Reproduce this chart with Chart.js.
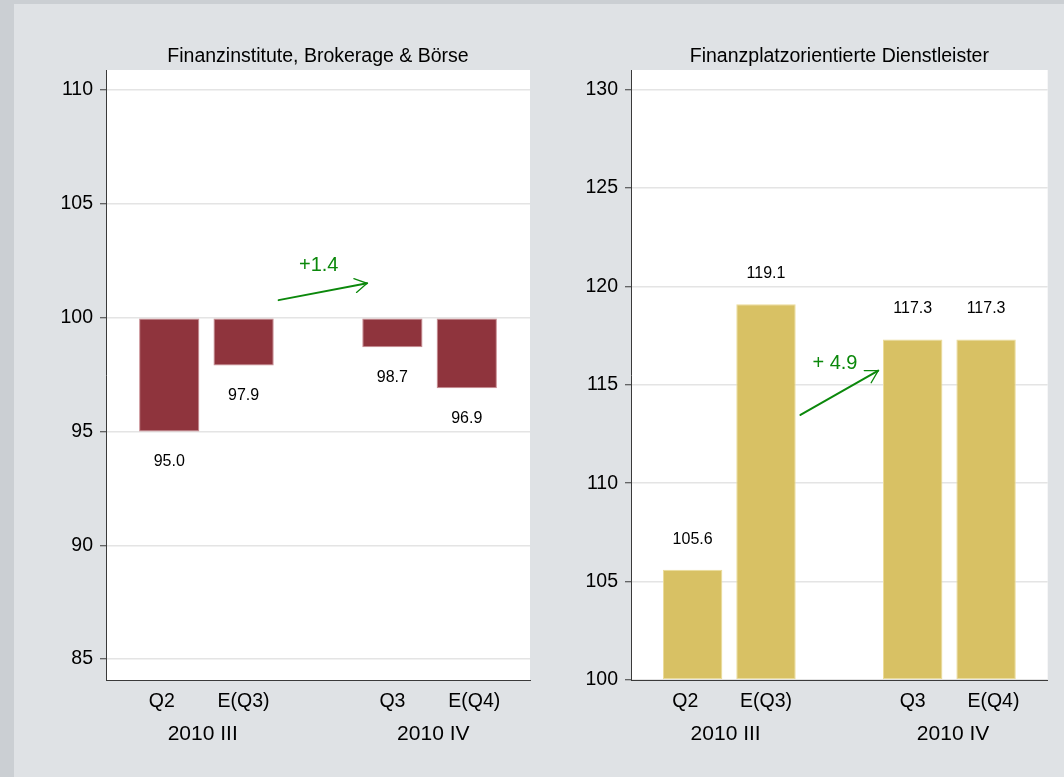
<!DOCTYPE html>
<html><head><meta charset="utf-8">
<script src="https://cdn.jsdelivr.net/npm/chart.js@4"></script>
<style>
html,body{margin:0;padding:0;width:1064px;height:777px;overflow:hidden;background:#cbcfd3;}
#panel{position:absolute;left:14px;top:4px;right:0;bottom:0;background:#dfe2e5;}
.box{position:absolute;top:0;height:777px;}
#b1{left:0;width:540px;}
#b2{left:540px;width:524px;}
canvas{display:block}
</style></head><body>
<div id="panel"></div>
<div class="box" id="b1"><canvas id="c1" width="540" height="777" style="width:540px;height:777px"></canvas></div>
<div class="box" id="b2"><canvas id="c2" width="524" height="777" style="width:524px;height:777px"></canvas></div>
<script>
// ---- data ----
const categories = ['Q2', 'E(Q3)', 'Q3', 'E(Q4)'];
const slots = [0, 1, 3, 4];
const labelSlots = [-0.1, 1, 3, 4.1];
const groupLabels = ['2010 III', '2010 IV'];
const groupSlots = [0.45, 3.55];
const titleLeft = 'Finanzinstitute, Brokerage & Börse';
const titleRight = 'Finanzplatzorientierte Dienstleister';
const valuesLeft = [95.0, 97.9, 98.7, 96.9];
const valuesRight = [105.6, 119.1, 117.3, 117.3];
const ticksLeft = [85, 90, 95, 100, 105, 110];
const ticksRight = [100, 105, 110, 115, 120, 125, 130];
const changeLeft = '+1.4';
const changeRight = '+ 4.9';
const arrowLeft = [[1.47, 100.77], [2.66, 101.51]];
const arrowRight = [[1.47, 113.47], [2.53, 115.72]];
const changePosLeft = [2.01, 102.28];
const changePosRight = [1.94, 116.09];

const FONT = 'Liberation Sans, Arial, sans-serif';
Chart.defaults.font.family = FONT;
const GREEN = '#0b880b';

const plotBg = {
  id: 'plotBg',
  beforeDraw(chart) {
    const a = chart.chartArea, c = chart.ctx;
    c.save(); c.fillStyle = '#ffffff';
    c.fillRect(a.left, a.top, a.right - a.left, a.bottom - a.top);
    c.restore();
  }
};

const valueLabels = {
  id: 'valueLabels',
  afterDatasetsDraw(chart) {
    const c = chart.ctx;
    const ds = chart.data.datasets[0];
    const meta = chart.getDatasetMeta(0);
    c.save();
    c.font = '16px ' + FONT;
    c.fillStyle = '#000';
    c.textAlign = 'center';
    c.textBaseline = 'middle';
    meta.data.forEach((bar, i) => {
      const v = ds.data[i].y;
      const below = v < ds.base;
      const y = below ? bar.y + 30.5 : bar.y - 30.5;
      c.fillText(v.toFixed(1), bar.x, y);
    });
    c.restore();
  }
};

function arrowPlugin(arrow, text, pos) {
  return {
    id: 'arrow',
    afterDraw(chart) {
      const xs = chart.scales.x, ys = chart.scales.y, c = chart.ctx;
      const x1 = xs.getPixelForValue(arrow[0][0]), y1 = ys.getPixelForValue(arrow[0][1]);
      const x2 = xs.getPixelForValue(arrow[1][0]), y2 = ys.getPixelForValue(arrow[1][1]);
      const ang = Math.atan2(y2 - y1, x2 - x1);
      c.save();
      c.strokeStyle = GREEN; c.lineCap = 'round';
      c.lineWidth = 2;
      c.beginPath(); c.moveTo(x1, y1); c.lineTo(x2, y2); c.stroke();
      c.lineWidth = 1.3;
      const L = 14, h = Math.PI / 6;
      c.beginPath();
      c.moveTo(x2 - L * Math.cos(ang - h), y2 - L * Math.sin(ang - h));
      c.lineTo(x2, y2);
      c.lineTo(x2 - L * Math.cos(ang + h), y2 - L * Math.sin(ang + h));
      c.stroke();
      c.font = '20px ' + FONT;
      c.fillStyle = GREEN; c.textAlign = 'center'; c.textBaseline = 'middle';
      c.fillText(text, xs.getPixelForValue(pos[0]), ys.getPixelForValue(pos[1]));
      c.restore();
    }
  };
}

function makeChart(id, o) {
  return new Chart(document.getElementById(id), {
    type: 'bar',
    data: {
      datasets: [{
        data: slots.map((s, i) => ({ x: s, y: o.values[i] })),
        base: o.base,
        xAxisID: 'x', yAxisID: 'y',
        backgroundColor: o.color,
        borderColor: o.border,
        borderWidth: 1,
        borderSkipped: false,
        barPercentage: 0.81,
        categoryPercentage: 1
      }]
    },
    options: {
      responsive: false,
      animation: false,
      devicePixelRatio: 1,
      layout: { padding: { left: o.padL, right: o.padR, top: 41, bottom: 17 } },
      plugins: {
        legend: { display: false },
        tooltip: { enabled: false },
        title: {
          display: true, text: o.title, color: '#000', fullSize: false,
          font: { size: 19.5, weight: 'normal', family: FONT },
          padding: { top: 3.9, bottom: 1.7 }
        }
      },
      scales: {
        x: {
          type: 'linear', position: 'bottom', min: o.xmin, max: o.xmax, weight: 1, offset: false,
          grid: { display: false, drawTicks: false, offset: false },
          border: { display: true, color: '#3a3a3a', width: 1 },
          afterBuildTicks: s => { s.ticks = labelSlots.map(v => ({ value: v })); },
          ticks: { autoSkip: false, maxRotation: 0, padding: 10, color: '#000',
                   font: { size: 19.5 }, callback: (v, i) => categories[i] },
          afterFit: s => { s.height = 38; }
        },
        g: {
          type: 'linear', axis: 'x', position: 'bottom', min: o.xmin, max: o.xmax, weight: 2, offset: false,
          grid: { display: false, drawTicks: false, offset: false },
          border: { display: false },
          afterBuildTicks: s => { s.ticks = groupSlots.map(v => ({ value: v })); },
          ticks: { autoSkip: false, maxRotation: 0, padding: 4, color: '#000',
                   font: { size: 21 }, callback: (v, i) => groupLabels[i] },
          afterFit: s => { s.height = 42; }
        },
        y: {
          type: 'linear', min: o.ymin, max: o.ymax,
          afterBuildTicks: s => { s.ticks = o.ticks.map(v => ({ value: v })); },
          grid: { color: '#e4e4e4', lineWidth: 1.5, tickColor: '#3a3a3a', tickLength: 6, tickWidth: 1 },
          border: { display: true, color: '#3a3a3a', width: 1 },
          ticks: { padding: 7, color: '#000', font: { size: 19.5 }, callback: v => String(v) },
          afterFit: s => { s.width = 60; }
        }
      }
    },
    plugins: [plotBg, valueLabels, arrowPlugin(o.arrow, o.change, o.changePos)]
  });
}

makeChart('c1', {
  values: valuesLeft, base: 100, color: '#8f343d', border: '#c88b91',
  title: titleLeft, padL: 46, padR: 10,
  xmin: -0.85, xmax: 4.85, ymin: 84.08, ymax: 110.88, ticks: ticksLeft,
  arrow: arrowLeft, change: changeLeft, changePos: changePosLeft
});
makeChart('c2', {
  values: valuesRight, base: 100, color: '#d8c164', border: '#ecdc98',
  title: titleRight, padL: 31, padR: 16.3,
  xmin: -0.84, xmax: 4.84, ymin: 100, ymax: 131.0, ticks: ticksRight,
  arrow: arrowRight, change: changeRight, changePos: changePosRight
});
</script>
</body></html>
